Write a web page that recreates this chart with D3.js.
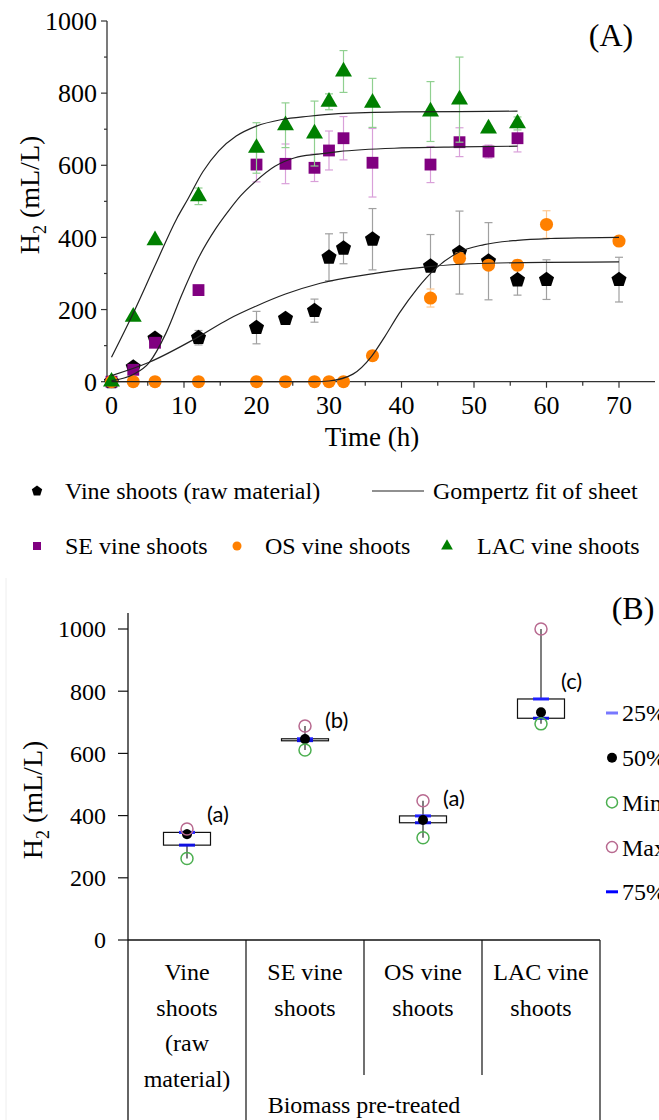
<!DOCTYPE html>
<html>
<head>
<meta charset="utf-8">
<script src="https://cdn.jsdelivr.net/npm/d3@7"></script>
<style>
body { margin: 0; background: #fff; }
svg { display: block; font-family: "Liberation Serif", "Times New Roman", serif; }
</style>
</head>
<body>
<script>
// ---- panel A : cumulative H2 over time ----
var timeRaw = [0, 3, 6, 12, 20, 24, 28, 30, 32, 36, 44, 48, 52, 56, 60, 70];
var timeTreated = [0, 3, 6, 12, 20, 24, 28, 30, 32, 36, 44, 48, 52, 56];

var rawH2 = [0, 40, 120, 122, 150, 175, 197, 345, 370, 395, 320, 358, 334, 282, 283, 283];
var rawSd = [0, 0, 0, 20, 45, 0, 32, 65, 43, 85, 88, 115, 107, 42, 55, 62];
var seH2 = [0, 33, 108, 254, 602, 604, 593, 641, 675, 607, 602, 664, 638, 675];
var seSd = [0, 0, 0, 12, 48, 55, 38, 54, 60, 95, 50, 40, 18, 38];
var osH2 = [0, 0, 0, 0, 0, 0, 0, 0, 0, 72, 232, 342, 323, 323, 436, 390];
var osSd = [0, 0, 0, 0, 0, 0, 0, 0, 0, 0, 25, 15, 0, 15, 38, 13];
var lacH2 = [0, 180, 392, 514, 648, 711, 688, 776, 860, 773, 749, 782, 702, 716];
var lacSd = [0, 0, 0, 23, 70, 62, 90, 22, 58, 68, 83, 118, 0, 18];

// Gompertz fit curves
var fitRawT = [0, 5.2, 11.6, 16.2, 20, 24, 28.8, 35.9, 43.8, 49.5, 60, 70];
var fitRawH2 = [17, 54, 120, 174, 210, 243, 273, 299, 319, 327, 331, 332];
var fitSeT = [0, 3, 5.2, 7.5, 9.8, 12.1, 14.4, 16.2, 17.8, 19.9, 22.6, 25.3, 28.5, 31.3, 40, 48, 56];
var fitSeH2 = [3, 20, 53, 134, 246, 347, 425, 475, 515, 556, 598, 621, 631, 638, 648, 651, 653];
var fitOsT = [0, 28, 30, 33.3, 35.9, 37.7, 39.7, 42.2, 44.5, 47.7, 51.4, 56, 60.5, 65, 70];
var fitOsH2 = [0, 0, 2, 21, 71, 125, 190, 259, 310, 357, 380, 392, 397, 399, 400];
var fitLacT = [0, 3, 6, 9, 10.5, 12.6, 14.8, 17.2, 19.9, 23.5, 27.2, 31.3, 40, 48, 56];
var fitLacH2 = [68, 190, 322, 452, 505, 582, 640, 681, 708, 727, 736, 743, 748, 749, 750];

// ---- panel B : box summary ----
var groupLines = [["Vine", "shoots", "(raw", "material)"], ["SE vine", "shoots"], ["OS vine", "shoots"], ["LAC vine", "shoots"]];
var q25 = [305, 641, 377, 713];
var q50 = [340, 646, 386, 732];
var q75 = [346, 647, 399, 775];
var minV = [262, 611, 329, 695];
var maxV = [357, 688, 448, 1000];
var letters = ["(a)", "(b)", "(a)", "(c)"];

var width = 659, height = 1120;

var svg = d3.select("body").append("svg")
    .attr("width", width)
    .attr("height", height);

var pentagon = {
  draw: function(ctx, size) {
    var r = Math.sqrt(size / 2.3776);
    for (var i = 0; i < 5; i++) {
      var a = -Math.PI / 2 + i * 2 * Math.PI / 5;
      if (i) ctx.lineTo(r * Math.cos(a), r * Math.sin(a));
      else ctx.moveTo(r * Math.cos(a), r * Math.sin(a));
    }
    ctx.closePath();
  }
};

//////////////////// PANEL A
var x = d3.scaleLinear().domain([0, 70]).range([111.5, 619]);
var y = d3.scaleLinear().domain([0, 1000]).range([381.7, 21]);

var gA = svg.append("g");

// axes
gA.append("line").attr("x1", 107).attr("x2", 655).attr("y1", y(0)).attr("y2", y(0))
    .attr("stroke", "#333").attr("stroke-width", 1.3);
gA.append("line").attr("x1", 107).attr("x2", 107).attr("y1", y(0)).attr("y2", y(1000))
    .attr("stroke", "#333").attr("stroke-width", 1.3);

gA.selectAll(".ytick").data(d3.range(0, 1001, 100)).enter().append("line")
    .attr("x1", function(d) { return d % 200 ? 104 : 101; }).attr("x2", 107)
    .attr("y1", y).attr("y2", y)
    .attr("stroke", "#333").attr("stroke-width", 1.2);
gA.selectAll(".ylab").data(d3.range(0, 1001, 200)).enter().append("text")
    .attr("x", 97).attr("y", y).attr("dy", "0.35em")
    .attr("text-anchor", "end").attr("font-size", 26)
    .text(function(d) { return d; });

gA.selectAll(".xtick").data(d3.range(0, 75, 5)).enter().append("line")
    .attr("x1", x).attr("x2", x)
    .attr("y1", y(0)).attr("y2", function(d) { return d % 10 ? y(0) + 4 : y(0) + 6; })
    .attr("stroke", "#333").attr("stroke-width", 1.2);
gA.selectAll(".xlab").data(d3.range(0, 71, 10)).enter().append("text")
    .attr("x", x).attr("y", 414)
    .attr("text-anchor", "middle").attr("font-size", 26)
    .text(function(d) { return d; });

gA.append("text").attr("x", 372).attr("y", 446).attr("text-anchor", "middle")
    .attr("font-size", 27).text("Time (h)");

var yt = gA.append("text").attr("transform", "translate(39,195) rotate(-90)")
    .attr("text-anchor", "middle").attr("font-size", 28);
yt.append("tspan").text("H");
yt.append("tspan").attr("dy", 7).attr("font-size", 18).text("2");
yt.append("tspan").attr("dy", -7).text(" (mL/L)");

gA.append("text").attr("x", 611).attr("y", 46).attr("text-anchor", "middle")
    .attr("font-size", 32).text("(A)");

var series = [
  {t: timeRaw, v: rawH2, sd: rawSd, fill: "#000", err: "#a0a0a0", sym: pentagon, size: 150},
  {t: timeTreated, v: seH2, sd: seSd, fill: "#800080", err: "#d9a0d9", sym: d3.symbolSquare, size: 140},
  {t: timeRaw, v: osH2, sd: osSd, fill: "#ff8000", err: "#ffc890", sym: d3.symbolCircle, size: 135},
  {t: timeTreated, v: lacH2, sd: lacSd, fill: "#008000", err: "#90d090", sym: d3.symbolTriangle, size: 125}
];

series.forEach(function(s) {
  var pts = s.t.map(function(t, i) { return {t: t, v: s.v[i], sd: s.sd[i]}; });
  var eg = gA.append("g");
  var withErr = pts.filter(function(d) { return d.sd > 0; });
  eg.selectAll(".eb").data(withErr).enter().append("line")
      .attr("x1", function(d) { return x(d.t); }).attr("x2", function(d) { return x(d.t); })
      .attr("y1", function(d) { return y(d.v - d.sd); }).attr("y2", function(d) { return y(d.v + d.sd); })
      .attr("stroke", s.err).attr("stroke-width", 1.2);
  [-1, 1].forEach(function(sign) {
    eg.selectAll(".cap" + sign).data(withErr).enter().append("line")
        .attr("x1", function(d) { return x(d.t) - 4; }).attr("x2", function(d) { return x(d.t) + 4; })
        .attr("y1", function(d) { return y(d.v + sign * d.sd); })
        .attr("y2", function(d) { return y(d.v + sign * d.sd); })
        .attr("stroke", s.err).attr("stroke-width", 1.2);
  });
  eg.selectAll(".pt").data(pts).enter().append("path")
      .attr("transform", function(d) { return "translate(" + x(d.t) + "," + y(d.v) + ")"; })
      .attr("d", d3.symbol().type(s.sym).size(s.size))
      .attr("fill", s.fill);
});

var fitLine = d3.line()
    .x(function(d) { return x(d[0]); })
    .y(function(d) { return y(d[1]); })
    .curve(d3.curveMonotoneX);

[[fitRawT, fitRawH2], [fitSeT, fitSeH2], [fitOsT, fitOsH2], [fitLacT, fitLacH2]].forEach(function(f) {
  gA.append("path")
      .datum(d3.zip(f[0], f[1]))
      .attr("d", fitLine)
      .attr("fill", "none").attr("stroke", "#222").attr("stroke-width", 1.2);
});

// legend A
var legA = svg.append("g").attr("font-size", 24);
legA.append("path").attr("transform", "translate(37,491)")
    .attr("d", d3.symbol().type(pentagon).size(70)).attr("fill", "#000");
legA.append("text").attr("x", 65).attr("y", 499).text("Vine shoots (raw material)");
legA.append("line").attr("x1", 372).attr("x2", 424).attr("y1", 491).attr("y2", 491)
    .attr("stroke", "#222").attr("stroke-width", 1.2);
legA.append("text").attr("x", 433).attr("y", 499).text("Gompertz fit of sheet");

legA.append("path").attr("transform", "translate(37,546)")
    .attr("d", d3.symbol().type(d3.symbolSquare).size(64)).attr("fill", "#800080");
legA.append("text").attr("x", 65).attr("y", 554).text("SE vine shoots");
legA.append("path").attr("transform", "translate(237,546)")
    .attr("d", d3.symbol().type(d3.symbolCircle).size(64)).attr("fill", "#ff8000");
legA.append("text").attr("x", 265).attr("y", 554).text("OS vine shoots");
legA.append("path").attr("transform", "translate(447,546)")
    .attr("d", d3.symbol().type(d3.symbolTriangle).size(60)).attr("fill", "#008000");
legA.append("text").attr("x", 477).attr("y", 554).text("LAC vine shoots");

//////////////////// PANEL B
var gB = svg.append("g");
var yb = d3.scaleLinear().domain([0, 1000]).range([940, 629]);
var xb = d3.scaleBand().domain(d3.range(4)).range([128, 600]);
var boxW = 47;

gB.append("line").attr("x1", 6).attr("x2", 6).attr("y1", 578).attr("y2", 1120)
    .attr("stroke", "#eee").attr("stroke-width", 1);

gB.append("line").attr("x1", 128).attr("x2", 128).attr("y1", 613).attr("y2", 1120)
    .attr("stroke", "#111").attr("stroke-width", 1.3);
gB.append("line").attr("x1", 128).attr("x2", 600).attr("y1", yb(0)).attr("y2", yb(0))
    .attr("stroke", "#111").attr("stroke-width", 1.3);
gB.selectAll(".yt").data(d3.range(0, 1001, 200)).enter().append("line")
    .attr("x1", 118).attr("x2", 128).attr("y1", yb).attr("y2", yb)
    .attr("stroke", "#111").attr("stroke-width", 1.2);
gB.selectAll(".yl").data(d3.range(0, 1001, 200)).enter().append("text")
    .attr("x", 106).attr("y", yb).attr("dy", "0.35em")
    .attr("text-anchor", "end").attr("font-size", 24)
    .text(function(d) { return d; });

var ytB = gB.append("text").attr("transform", "translate(42,800) rotate(-90)")
    .attr("text-anchor", "middle").attr("font-size", 28);
ytB.append("tspan").text("H");
ytB.append("tspan").attr("dy", 7).attr("font-size", 18).text("2");
ytB.append("tspan").attr("dy", -7).text(" (mL/L)");

gB.append("text").attr("x", 633).attr("y", 619).attr("text-anchor", "middle")
    .attr("font-size", 32).text("(B)");

// category table lines
[1, 2, 3, 4].forEach(function(i) {
  var xx = i < 4 ? xb(i) : xb.range()[1];
  gB.append("line").attr("x1", xx).attr("x2", xx).attr("y1", yb(0))
      .attr("y2", (i === 1 || i === 4) ? 1120 : 1075)
      .attr("stroke", "#111").attr("stroke-width", 1.2);
});
groupLines.forEach(function(lines, i) {
  var t = gB.append("text").attr("text-anchor", "middle").attr("font-size", 24);
  lines.forEach(function(l, j) {
    t.append("tspan").attr("x", xb(i) + xb.bandwidth() / 2).attr("y", 980 + j * 35.5).text(l);
  });
});
gB.append("text").attr("x", xb(2)).attr("y", 1113).attr("text-anchor", "middle")
    .attr("font-size", 24).text("Biomass pre-treated");

// boxes
d3.range(4).forEach(function(i) {
  var cx = xb(i) + xb.bandwidth() / 2;
  gB.append("line").attr("x1", cx).attr("x2", cx)
      .attr("y1", yb(minV[i])).attr("y2", yb(maxV[i]))
      .attr("stroke", "#555").attr("stroke-width", 1.5);
  gB.append("rect").attr("x", cx - boxW / 2).attr("width", boxW)
      .attr("y", yb(q75[i])).attr("height", Math.max(yb(q25[i]) - yb(q75[i]), 2))
      .attr("fill", "#fff").attr("stroke", "#111").attr("stroke-width", 1.2);
  gB.append("line").attr("x1", cx - 8).attr("x2", cx + 8)
      .attr("y1", yb(q75[i])).attr("y2", yb(q75[i]))
      .attr("stroke", "#2020ff").attr("stroke-width", 3);
  gB.append("line").attr("x1", cx - 8).attr("x2", cx + 8)
      .attr("y1", yb(q25[i])).attr("y2", yb(q25[i]))
      .attr("stroke", "#1010e0").attr("stroke-width", 3);
  gB.append("circle").attr("cx", cx).attr("cy", yb(q50[i])).attr("r", 5).attr("fill", "#000");
  gB.append("circle").attr("cx", cx).attr("cy", yb(minV[i])).attr("r", 6)
      .attr("fill", "none").attr("stroke", "#4caf50").attr("stroke-width", 1.5);
  gB.append("circle").attr("cx", cx).attr("cy", yb(maxV[i])).attr("r", 6)
      .attr("fill", "none").attr("stroke", "#b86a90").attr("stroke-width", 1.5);
  gB.append("text").attr("x", cx + 20).attr("y", yb(q75[i]) - 18).attr("dy", "0.35em")
      .attr("font-family", "Lato, 'Open Sans', sans-serif").attr("font-size", 22)
      .text(letters[i]);
});

// legend B (cut by the right edge, as in the original)
var legB = gB.append("g").attr("font-size", 24);
var legItems = ["25%", "50%", "Min", "Max", "75%"];
legItems.forEach(function(name, i) {
  var ly = 713 + i * 44.7;
  if (name === "25%" || name === "75%") {
    legB.append("line").attr("x1", 606).attr("x2", 618).attr("y1", ly).attr("y2", ly)
        .attr("stroke", name === "25%" ? "#7878ff" : "#0000ff").attr("stroke-width", 3);
  } else if (name === "50%") {
    legB.append("circle").attr("cx", 612).attr("cy", ly).attr("r", 5).attr("fill", "#000");
  } else {
    legB.append("circle").attr("cx", 612).attr("cy", ly).attr("r", 5.5).attr("fill", "none")
        .attr("stroke", name === "Min" ? "#4caf50" : "#b86a90").attr("stroke-width", 1.5);
  }
  legB.append("text").attr("x", 622).attr("y", ly).attr("dy", "0.35em").text(name);
});
</script>
</body>
</html>
